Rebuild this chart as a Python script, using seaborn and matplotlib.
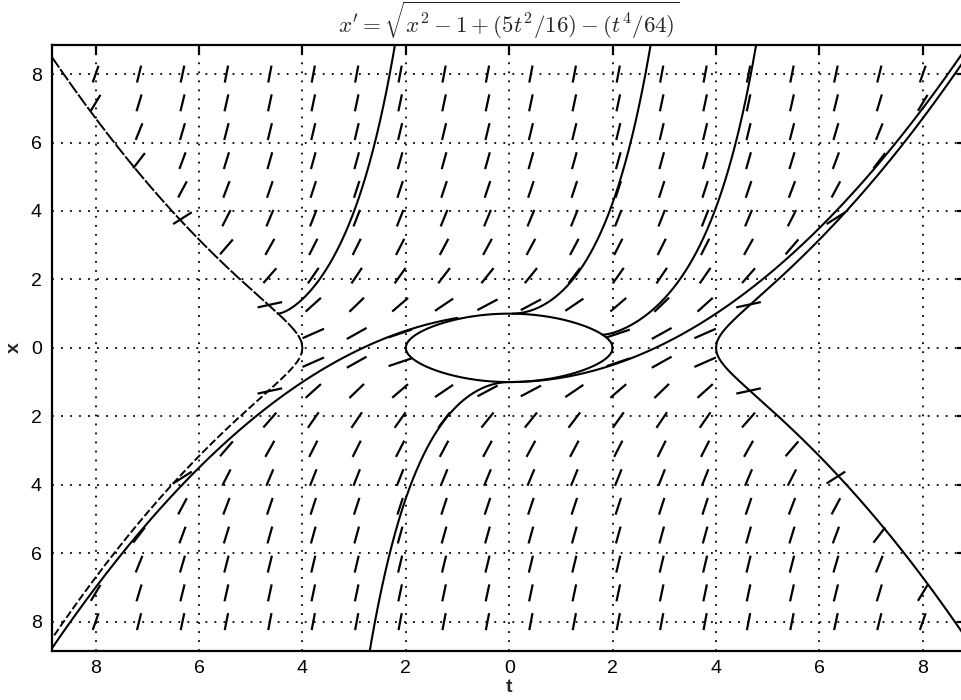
import numpy as np
import pandas as pd
import seaborn as sns
import matplotlib.pyplot as plt
from matplotlib.collections import LineCollection

# equation shown in the title: x' = sqrt(x^2 - 1 + 5t^2/16 - t^4/64)
title = r"$x' = \sqrt{x^2 - 1 + (5t^2/16) - (t^4/64)}$"

# direction field grid (20 x 20)
field_t = [-8.0, -7.16, -6.32, -5.47, -4.63, -3.79, -2.95, -2.11, -1.26, -0.42,
           0.42, 1.26, 2.11, 2.95, 3.79, 4.63, 5.47, 6.32, 7.16, 8.0]
field_x = [-8.0, -7.16, -6.32, -5.47, -4.63, -3.79, -2.95, -2.11, -1.26, -0.42,
           0.42, 1.26, 2.11, 2.95, 3.79, 4.63, 5.47, 6.32, 7.16, 8.0]

# points the drawn solution curves pass through (t, x), and whether to
# follow them forward in t as well as backward
sol_t0 = [-3.33, 1.0, 3.64, 1.0, -1.0]
sol_x0 = [2.85, 1.625, 2.85, -0.875, 0.875]
sol_fwd = [True, True, True, True, False]

tick_pos = [-8, -6, -4, -2, 0, 2, 4, 6, 8]
tick_lab = ["8", "6", "4", "2", "0", "2", "4", "6", "8"]
lim = 8.85


def rhs(t, x):
    return x * x - 1 + 5 * t * t / 16 - t ** 4 / 64


def slope(t, x):
    return np.sqrt(max(rhs(t, x), 0.0))


def trace(t0, x0, h):
    ts, xs = [t0], [x0]
    t, x = t0, x0
    while abs(t) < lim + 0.1 and abs(x) < lim + 0.3:
        k1 = slope(t, x)
        k2 = slope(t + h / 2, x + h / 2 * k1)
        k3 = slope(t + h / 2, x + h / 2 * k2)
        k4 = slope(t + h, x + h * k3)
        x = x + h / 6 * (k1 + 2 * k2 + 2 * k3 + k4)
        t = t + h
        if rhs(t, x) < 0:
            break
        ts.append(t)
        xs.append(x)
    return ts, xs


sns.set_theme(style="white")
plt.rcParams['font.family'] = ['Liberation Sans', 'DejaVu Sans']
plt.rcParams['mathtext.fontset'] = 'cm'

fig = plt.figure(figsize=(9.61, 7.0), dpi=100)
ax = fig.add_axes([51.7 / 961, 49.3 / 700, 915 / 961, 605.7 / 700])
ax.set_xlim(-lim, lim)
ax.set_ylim(-lim, lim)

# direction field, segment length fixed in data units
seg_len = 0.5
segs = []
for tt in field_t:
    for xx in field_x:
        f = rhs(tt, xx)
        if f < 0:
            continue
        s = np.sqrt(f)
        dt = seg_len / 2 / np.sqrt(1 + s * s)
        segs.append([(tt - dt, xx - s * dt), (tt + dt, xx + s * dt)])
ax.add_collection(LineCollection(segs, colors='black', linewidths=1.6, capstyle='butt'))

# solution curves
rows = []
for i, (t0, x0, fwd) in enumerate(zip(sol_t0, sol_x0, sol_fwd)):
    tb, xb = trace(t0, x0, -0.002)
    tf, xf = trace(t0, x0, 0.002) if fwd else ([t0], [x0])
    ts = tb[::-1] + tf[1:]
    xs = xb[::-1] + xf[1:]
    rows.append(pd.DataFrame({'t': ts, 'x': xs, 'curve': i}))
sol = pd.concat(rows, ignore_index=True)
for i, d in sol.groupby('curve'):
    sns.lineplot(data=d, x='t', y='x', sort=False, estimator=None,
                 color='black', linewidth=1.5, ax=ax)

# curve where the expression under the root vanishes
g = lambda t: np.sqrt(np.clip((1 - t ** 2 / 4) * (1 - t ** 2 / 16), 0, None))
t_oval = np.linspace(-2, 2, 401)
ax.plot(t_oval, g(t_oval), color='black', lw=1.5)
ax.plot(t_oval, -g(t_oval), color='black', lw=1.5)
t_out = np.linspace(4, lim, 300)
ax.plot(t_out, g(t_out), color='black', lw=1.5)
ax.plot(t_out, -g(t_out), color='black', lw=1.5)
ax.plot(-t_out, g(-t_out), color='black', lw=1.4, linestyle=(0, (7, 1)))
ax.plot(-t_out, -g(-t_out), color='black', lw=1.4, linestyle=(0, (4, 1.5)))

ax.set_xticks(tick_pos)
ax.set_xticklabels(tick_lab)
ax.set_yticks(tick_pos)
ax.set_yticklabels(tick_lab)
ax.grid(True, color='black', linestyle=(0, (1, 4)), linewidth=1.3)
ax.tick_params(direction='in', length=7, width=1.6, top=True, right=True,
               labelsize=14, colors='black', pad=7)
for sp in ax.spines.values():
    sp.set_color('black')
    sp.set_linewidth(1.6)
ax.set_xlabel('t', fontsize=14, fontweight='bold', labelpad=1)
ax.set_ylabel('x', fontsize=14, fontweight='bold', labelpad=6)
ax.set_title(title, fontsize=16.5, pad=8)

fig.savefig('out.png', dpi=100)
